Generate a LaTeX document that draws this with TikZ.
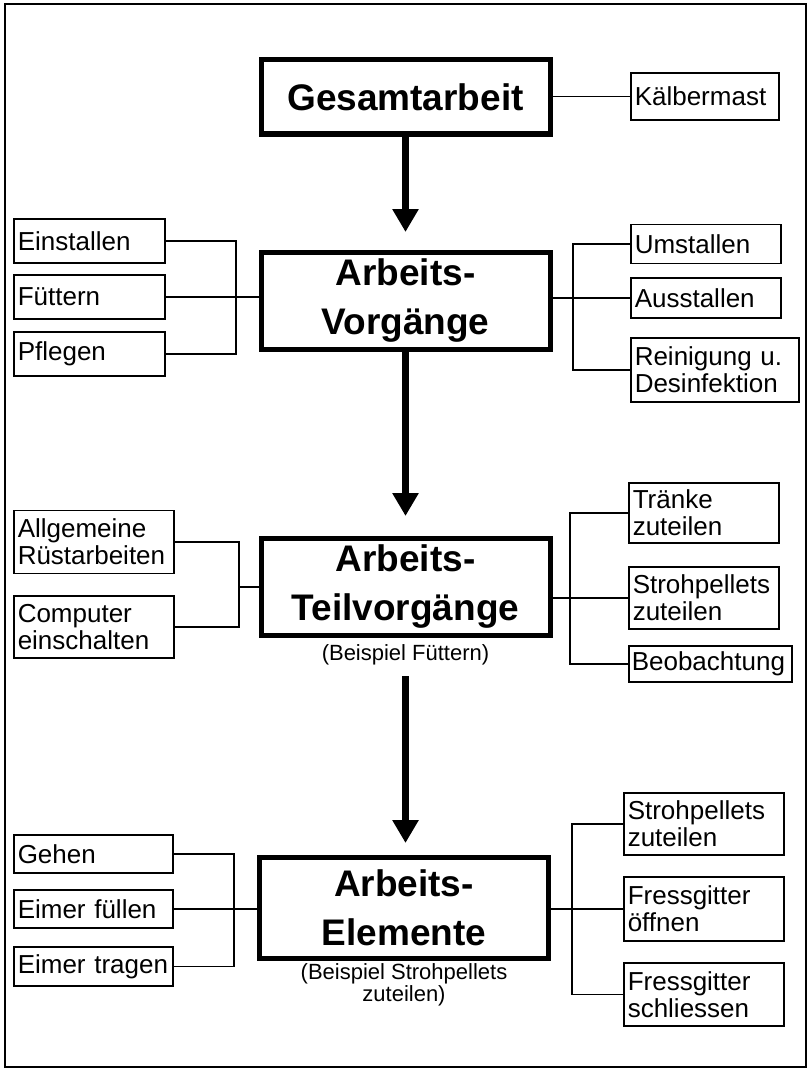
\documentclass[tikz,border=0pt]{standalone}
\usepackage{fontspec}
\setmainfont{Liberation Sans}
\usetikzlibrary{arrows.meta}

\begin{document}
\begin{tikzpicture}[x=1pt, y=-1pt,
	haupt/.style={draw, line width=5pt, minimum width=289pt, inner sep=0pt,
	align=center, font=\fontsize{37}{49}\selectfont\bfseries},
	feld/.style={draw, line width=1.5pt, anchor=west, inner xsep=4pt,
	inner ysep=0pt, align=left, font=\fontsize{26}{27}\selectfont},
	notiz/.style={align=center, inner sep=0pt, font=\fontsize{22}{18}\selectfont},
	verb/.style={line width=1.6pt},
	pfeil/.style={line width=7.5pt, -{Triangle[width=25pt,length=23pt]}}]
\useasboundingbox (0,0) rectangle (809,1070);
\draw[line width=1.5pt] (5,4) rectangle (806,1067);
% Hauptkaesten
\node[haupt, minimum height=74pt] (0) at (405.5, 97) {Gesamtarbeit};
\node[haupt, minimum height=97pt] (1) at (405.5, 300.5) {Arbeits-\\Vorgänge};
\node[haupt, minimum height=97pt] (2) at (405.5, 587) {Arbeits-\\Teilvorgänge};
\node[notiz] (3) at (405.5, 655) {(Beispiel Füttern)};
\node[haupt, minimum height=101pt] (4) at (404, 907.5) {Arbeits-\\Elemente};
\node[notiz] (5) at (404, 985) {(Beispiel Strohpellets\\zuteilen)};
% Nebenkaesten
\node[feld, text width=140pt, minimum height=47pt] (6) at (630, 96.5) {Kälbermast};
\node[feld, text width=143pt, minimum height=44pt] (7) at (13, 241) {Einstallen};
\node[feld, text width=143pt, minimum height=44pt] (8) at (13, 297) {Füttern};
\node[feld, text width=143pt, minimum height=44pt] (9) at (13, 354) {Pflegen};
\node[feld, text width=142pt, minimum height=39pt] (10) at (630, 244) {Umstallen};
\node[feld, text width=142pt, minimum height=40pt] (11) at (630, 298) {Ausstallen};
\node[feld, text width=160pt, minimum height=64pt] (12) at (630, 370) {Reinigung u.\\Desinfektion};
\node[feld, text width=152pt, minimum height=63pt] (13) at (13, 542) {Allgemeine\\Rüstarbeiten};
\node[feld, text width=152pt, minimum height=62pt] (14) at (13, 627) {Computer\\einschalten};
\node[feld, text width=142pt, minimum height=60pt] (15) at (628, 513) {Tränke\\zuteilen};
\node[feld, text width=142pt, minimum height=62pt] (16) at (628, 598) {Strohpellets\\zuteilen};
\node[feld, text width=157pt, minimum height=36pt, inner xsep=3pt] (17) at (628, 664) {Beobachtung};
\node[feld, text width=151pt, minimum height=38pt] (18) at (13, 854) {Gehen};
\node[feld, text width=151pt, minimum height=38pt] (19) at (13, 909) {Eimer füllen};
\node[feld, text width=151pt, minimum height=39pt] (20) at (13, 966.5) {Eimer tragen};
\node[feld, text width=152pt, minimum height=62pt] (21) at (623, 824) {Strohpellets\\zuteilen};
\node[feld, text width=152pt, minimum height=64pt] (22) at (623, 909) {Fressgitter\\öffnen};
\node[feld, text width=152pt, minimum height=63pt] (23) at (623, 994.5) {Fressgitter\\schliessen};
% Hilfspunkte
\coordinate (b1) at (236,0);
\coordinate (b2) at (573,0);
\coordinate (b3) at (239,0);
\coordinate (b4) at (570,0);
\coordinate (b5) at (234,0);
\coordinate (b6) at (572,0);
\coordinate (t1) at (405.5,232);
\coordinate (t2) at (405.5,516);
\coordinate (s3) at (405.5,676);
\coordinate (t3) at (405.5,843);
% Pfeile
\draw[pfeil] (0.south) -- (t1);
\draw[pfeil] (1.south) -- (t2);
\draw[pfeil] (s3) -- (t3);
% Verbindungen
\draw[verb] (0.east |- 6.west) -- (6.west);
\draw[verb] (7.east) -- (7.east -| b1) -- (9.east -| b1) -- (9.east);
\draw[verb] (8.east) -- (8.east -| 1.west);
\draw[verb] (10.west) -- (10.west -| b2) -- (12.west -| b2) -- (12.west);
\draw[verb] (1.east |- 11.west) -- (11.west);
\draw[verb] (13.east) -- (13.east -| b3) -- (14.east -| b3) -- (14.east);
\draw[verb] (b3 |- 2.west) -- (2.west);
\draw[verb] (15.west) -- (15.west -| b4) -- (17.west -| b4) -- (17.west);
\draw[verb] (2.east |- 16.west) -- (16.west);
\draw[verb] (18.east) -- (18.east -| b5) -- (20.east -| b5) -- (20.east);
\draw[verb] (19.east) -- (19.east -| 4.west);
\draw[verb] (21.west) -- (21.west -| b6) -- (23.west -| b6) -- (23.west);
\draw[verb] (4.east |- 22.west) -- (22.west);
\end{tikzpicture}
\end{document}
